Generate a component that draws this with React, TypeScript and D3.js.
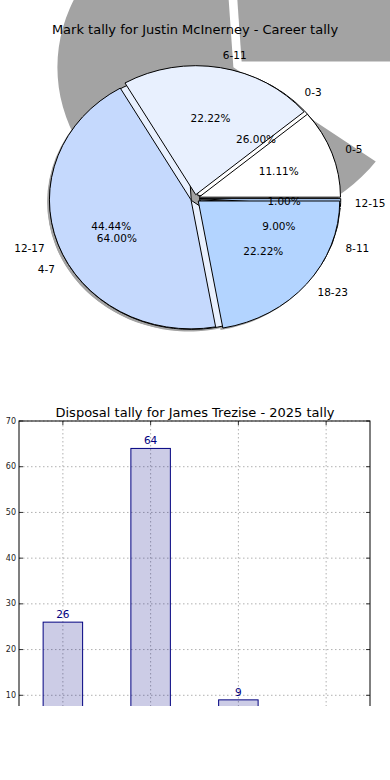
import * as d3 from "d3";

// ---- pie data ----
const pieTitle = "Mark tally for Justin McInerney - Career tally";
const innerLabels = ["0-3", "4-7", "8-11", "12-15"];
const innerValues = [26, 64, 9, 1];
const outerLabels = ["0-5", "6-11", "12-17", "18-23"];
const outerValues = [1, 2, 4, 2];
const pieColors = ["#ffffff", "#e8f0fe", "#c5d9fd", "#b3d4ff"];
// slices whose stray (oversized) shadow shows behind the pie
const ghostLabels = ["0-3", "4-7"];

// ---- bar data ----
const barTitle = "Disposal tally for James Trezise - 2025 tally";
const barCategories = ["0-3", "4-7", "8-11", "12-15"];
const barValues = [26, 64, 9, 1];
const yTicks = [0, 10, 20, 30, 40, 50, 60, 70];

const W = 390;
const H = 780;
const FONT = "DejaVu Sans, sans-serif";
const SHADOW = "#a3a3a3";

const pie = d3
  .pie<number>()
  .sort(null)
  .startAngle(Math.PI / 2)
  .endAngle(Math.PI / 2 - 2 * Math.PI);

const unitArc = d3
  .arc<d3.PieArcDatum<number>>()
  .innerRadius(0)
  .outerRadius(1);

type Geo = { cx: number; cy: number; rx: number; ry: number; explode: number };

const mainGeo: Geo = { cx: 195, cy: 198.5, rx: 141.5, ry: 129, explode: 0.03 };
const ghostGeo: Geo = { cx: 238, cy: 65, rx: 176, ry: 160, explode: 0.03 };

function place(g: Geo, a: number, dist: number, dx = 0, dy = 0) {
  const ux = Math.sin(a);
  const uy = -Math.cos(a);
  return {
    x: g.cx + dx + (g.explode + dist) * ux * g.rx,
    y: g.cy + dy + (g.explode + dist) * uy * g.ry,
    ux,
  };
}

function wedgeTransform(g: Geo, s: d3.PieArcDatum<number>, dx = 0, dy = 0) {
  const a = (s.startAngle + s.endAngle) / 2;
  const p = place(g, a, 0, dx, dy);
  return `translate(${p.x},${p.y}) scale(${g.rx},${g.ry})`;
}

function PieChart() {
  const inner = pie(innerValues);
  const outer = pie(outerValues);
  const innerSum = d3.sum(innerValues);
  const outerSum = d3.sum(outerValues);
  const sx = -0.016 * mainGeo.rx;
  const sy = 0.016 * mainGeo.ry;

  const wedges = (slices: d3.PieArcDatum<number>[], key: string) =>
    slices.map((s, i) => (
      <path
        key={key + i}
        d={unitArc(s) || ""}
        transform={wedgeTransform(mainGeo, s)}
        fill={pieColors[i]}
        stroke="#000"
        strokeWidth={1}
        vectorEffect="non-scaling-stroke"
      />
    ));

  const labels = (slices: d3.PieArcDatum<number>[], names: string[], sum: number, key: string) =>
    slices.map((s, i) => {
      const a = (s.startAngle + s.endAngle) / 2;
      const outerPt = place(mainGeo, a, 1.1);
      const pctPt = place(mainGeo, a, 0.6);
      return (
        <g key={key + i}>
          <text
            x={outerPt.x}
            y={outerPt.y}
            textAnchor={outerPt.ux >= 0 ? "start" : "end"}
            dominantBaseline="central"
            fontSize={10.5}
            fontFamily={FONT}
            fill="#000"
          >
            {names[i]}
          </text>
          <text
            x={pctPt.x}
            y={pctPt.y}
            textAnchor="middle"
            dominantBaseline="central"
            fontSize={10.5}
            fontFamily={FONT}
            fill="#000"
          >
            {((s.data / sum) * 100).toFixed(2)}%
          </text>
        </g>
      );
    });

  return (
    <g>
      {/* stray oversized shadow */}
      {inner
        .filter((s, i) => ghostLabels.includes(innerLabels[i]))
        .map((s, i) => (
          <path key={"gh" + i} d={unitArc(s) || ""} transform={wedgeTransform(ghostGeo, s)} fill={SHADOW} />
        ))}
      {/* regular drop shadows */}
      {[...inner, ...outer].map((s, i) => (
        <path key={"sh" + i} d={unitArc(s) || ""} transform={wedgeTransform(mainGeo, s, sx, sy)} fill={SHADOW} />
      ))}
      {wedges(inner, "a")}
      {wedges(outer, "b")}
      <text x={W / 2} y={34} textAnchor="middle" fontSize={13} fontFamily={FONT} fill="#000">
        {pieTitle}
      </text>
      {labels(inner, innerLabels, innerSum, "la")}
      {labels(outer, outerLabels, outerSum, "lb")}
    </g>
  );
}

function BarChart() {
  const left = 19;
  const right = 370;
  const top = 421;
  const x = d3.scalePoint<string>().domain(barCategories).range([left, right]).padding(0.5);
  const y = d3.scaleLinear().domain([0, 70]).range([741, top]);
  const bw = x.step() * 0.45;
  const bottom = y(0);

  return (
    <g clipPath="url(#barClip)">
      <text x={W / 2} y={417} textAnchor="middle" fontSize={13} fontFamily={FONT} fill="#000">
        {barTitle}
      </text>
      {/* grid */}
      {yTicks.map((t) => (
        <line key={"gy" + t} x1={left} x2={right} y1={y(t)} y2={y(t)} stroke="#b0b0b0" strokeDasharray="1.5,2.5" />
      ))}
      {barCategories.map((c) => (
        <line key={"gx" + c} x1={x(c)} x2={x(c)} y1={top} y2={bottom} stroke="#b0b0b0" strokeDasharray="1.5,2.5" />
      ))}
      {/* bars */}
      {barCategories.map((c, i) => (
        <rect
          key={"b" + c}
          x={(x(c) || 0) - bw / 2}
          y={y(barValues[i])}
          width={bw}
          height={bottom - y(barValues[i])}
          fill="navy"
          fillOpacity={0.2}
          stroke="navy"
          strokeWidth={1}
        />
      ))}
      {barCategories.map((c, i) => (
        <text
          key={"v" + c}
          x={x(c)}
          y={y(barValues[i]) - 4}
          textAnchor="middle"
          fontSize={10.5}
          fontFamily={FONT}
          fill="navy"
        >
          {barValues[i]}
        </text>
      ))}
      {/* frame */}
      <rect x={left} y={top} width={right - left} height={bottom - top} fill="none" stroke="#000" strokeWidth={1} />
      {/* ticks */}
      {yTicks.map((t) => (
        <g key={"t" + t}>
          <line x1={left} x2={left + 4} y1={y(t)} y2={y(t)} stroke="#000" strokeWidth={0.8} />
          <line x1={right - 4} x2={right} y1={y(t)} y2={y(t)} stroke="#000" strokeWidth={0.8} />
          <text x={16} y={y(t)} textAnchor="end" dominantBaseline="central" fontSize={8} fontFamily={FONT} fill="#222">
            {t}
          </text>
        </g>
      ))}
      {barCategories.map((c) => (
        <g key={"tx" + c}>
          <line x1={x(c)} x2={x(c)} y1={top} y2={top + 4} stroke="#000" strokeWidth={0.8} />
          <text x={x(c)} y={bottom + 12} textAnchor="middle" fontSize={8} fontFamily={FONT} fill="#222">
            {c}
          </text>
        </g>
      ))}
    </g>
  );
}

export default function App() {
  return (
    <svg
      width={W}
      height={H}
      viewBox={`0 0 ${W} ${H}`}
      style={{ position: "absolute", left: 0, top: 0, background: "#fff" }}
    >
      <defs>
        <clipPath id="barClip">
          <rect x={0} y={395} width={W} height={311} />
        </clipPath>
      </defs>
      <rect x={0} y={0} width={W} height={H} fill="#fff" />
      <PieChart />
      <BarChart />
    </svg>
  );
}
